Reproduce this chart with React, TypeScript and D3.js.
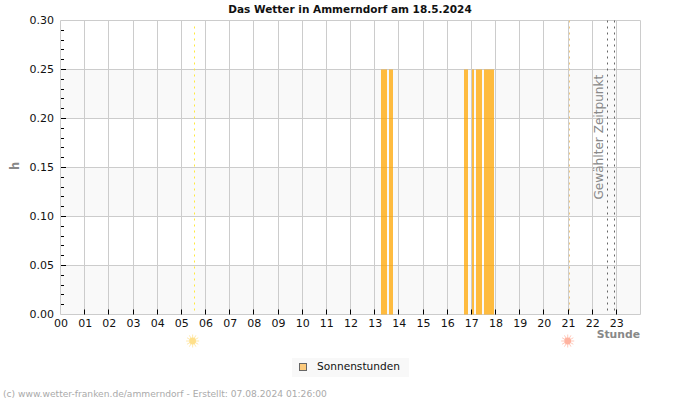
import React from "react";
import * as d3 from "d3";

const WIDTH = 700;
const HEIGHT = 400;
const FONT = "'DejaVu Sans', sans-serif";

const title = "Das Wetter in Ammerndorf am 18.5.2024";
const hourLabels = ["00","01","02","03","04","05","06","07","08","09","10","11","12","13","14","15","16","17","18","19","20","21","22","23"];
const yMajorTicks = [0, 0.05, 0.1, 0.15, 0.2, 0.25, 0.3];
const yMinorTicks = [0.01,0.02,0.03,0.04,0.06,0.07,0.08,0.09,0.11,0.12,0.13,0.14,0.16,0.17,0.18,0.19,0.21,0.22,0.23,0.24,0.26,0.27,0.28,0.29];
const shadedBands = [[0, 0.05], [0.1, 0.15], [0.2, 0.25]];

// Sunshine intervals, in decimal hours of the day
const sunStart = [13.26, 13.59, 16.7, 17.03, 17.19, 17.52];
const sunEnd = [13.51, 13.76, 16.86, 17.11, 17.44, 17.94];
const sunHours = [0.25, 0.25, 0.25, 0.25, 0.25, 0.25];

const sunrise = 5.55;
const sunset = 21.05;
const selectedTimes = [22.63, 22.92];

const x = d3.scaleLinear().domain([0, 24]).range([60.5, 640.5]);
const y = d3.scaleLinear().domain([0, 0.3]).range([314.5, 20.5]);

// Hairlines sit on whole pixels so they stay crisp
const crisp = (v: number) => Math.floor(v) + 0.5;

function Sun({ cx, cy, color }: { cx: number; cy: number; color: string }) {
  const rays = d3.range(12).map((i) => (i * Math.PI) / 6);
  return (
    <g>
      {rays.map((a) => (
        <line
          key={a}
          x1={cx + 3 * Math.cos(a)}
          y1={cy + 3 * Math.sin(a)}
          x2={cx + 6.5 * Math.cos(a)}
          y2={cy + 6.5 * Math.sin(a)}
          stroke={color}
          strokeOpacity={0.7}
          strokeWidth={1}
        />
      ))}
      <circle cx={cx} cy={cy} r={3.4} fill={color} />
    </g>
  );
}

export default function App() {
  return (
    <svg
      width={WIDTH}
      height={HEIGHT}
      style={{ position: "absolute", left: 0, top: 0, background: "#fff" }}
      fontFamily={FONT}
    >
      <text x={350} y={13} textAnchor="middle" fontSize={10.5} fontWeight="bold" fill="#111">
        {title}
      </text>

      {shadedBands.map(([lo, hi]) => (
        <rect key={lo} x={x(0)} y={y(hi)} width={x(24) - x(0)} height={y(lo) - y(hi)} fill="#f9f9f9" />
      ))}

      {/* Grid */}
      {d3.range(0, 25).map((h) => (
        <line key={h} x1={crisp(x(h))} x2={crisp(x(h))} y1={y(0.3)} y2={y(0)} stroke="#cccccc" />
      ))}
      {yMajorTicks.map((v) => (
        <line key={v} x1={x(0)} x2={x(24)} y1={crisp(y(v))} y2={crisp(y(v))} stroke="#cccccc" />
      ))}

      {/* Sunshine bars */}
      {sunHours.map((v, i) => (
        <rect
          key={i}
          x={Math.round(x(sunStart[i]))}
          y={y(v)}
          width={Math.round(x(sunEnd[i])) - Math.round(x(sunStart[i]))}
          height={y(0) - y(v)}
          fill="#ffa500"
          fillOpacity={0.75}
        />
      ))}

      {/* Sunrise, sunset and the selected time */}
      <line x1={crisp(x(sunrise))} x2={crisp(x(sunrise))} y1={y(0.3) + 6} y2={y(0)} stroke="#ffe93c" strokeDasharray="2 4" />
      <line x1={crisp(x(sunset))} x2={crisp(x(sunset))} y1={y(0.3)} y2={y(0)} stroke="#f0c880" strokeDasharray="2 4" />
      {selectedTimes.map((t) => (
        <line key={t} x1={crisp(x(t))} x2={crisp(x(t))} y1={y(0.3)} y2={y(0)} stroke="#666" strokeDasharray="2 4" />
      ))}
      <text transform="translate(602.5,199.5) rotate(-90)" fontSize={12.1} fill="#888">
        Gewählter Zeitpunkt
      </text>

      {/* Axes */}
      {yMinorTicks.map((v) => (
        <line key={v} x1={61} x2={64} y1={crisp(y(v))} y2={crisp(y(v))} stroke="#000" />
      ))}
      {yMajorTicks.map((v) => (
        <g key={v}>
          <line x1={61} x2={66} y1={crisp(y(v))} y2={crisp(y(v))} stroke={v === 0 || v === 0.3 ? "none" : "#000"} />
          <text x={54} y={y(v) + 3.5} textAnchor="end" fontSize={11} fill="#111">
            {d3.format(".2f")(v)}
          </text>
        </g>
      ))}
      {hourLabels.map((label, h) => (
        <g key={label}>
          {h > 0 && <line x1={crisp(x(h))} x2={crisp(x(h))} y1={y(0) - 5} y2={y(0)} stroke="#000" />}
          <text x={x(h) + 0.5} y={327} textAnchor="middle" fontSize={11} fill="#111">
            {label}
          </text>
        </g>
      ))}
      <text x={640} y={338} textAnchor="end" fontSize={10.8} fontWeight="bold" fill="#888">
        Stunde
      </text>
      <text transform="translate(19,170) rotate(-90)" fontSize={11.5} fontWeight="bold" fill="#888">
        h
      </text>

      <Sun cx={x(sunrise) - 2} cy={341} color="#ffe08a" />
      <Sun cx={x(sunset) - 1.5} cy={341} color="#ffb3a0" />

      {/* Legend */}
      <rect x={292} y={358} width={117} height={19} fill="#f8f8f8" />
      <rect x={299.5} y={363.5} width={7} height={7} fill="#fcca7c" stroke="#666" />
      <text x={317} y={370} fontSize={10.6} fill="#111">
        Sonnenstunden
      </text>

      <text x={3} y={397} fontSize={9.15} fill="#aaaaaa">
        (c) www.wetter-franken.de/ammerndorf - Erstellt: 07.08.2024 01:26:00
      </text>
    </svg>
  );
}
